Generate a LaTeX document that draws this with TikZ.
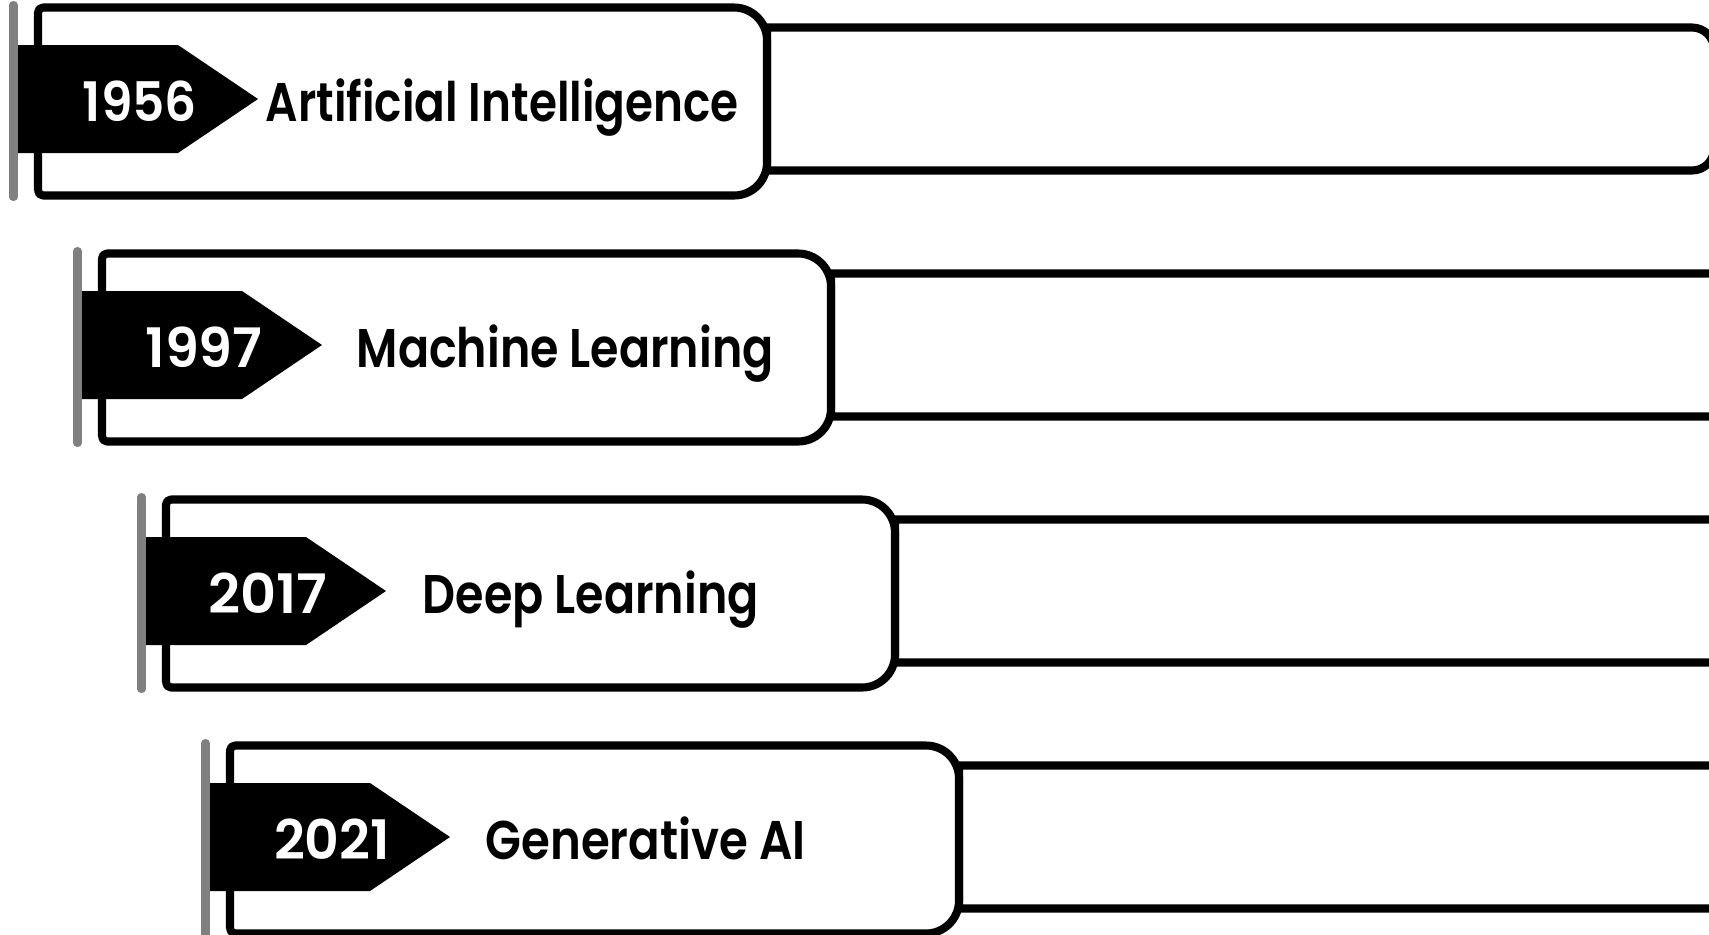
\documentclass[tikz,border=0pt]{standalone}
\usepackage{fontspec}
\setmainfont{Poppins}[BoldFont={Poppins SemiBold}]
\usepackage{graphicx}
\definecolor{bargray}{RGB}{128,128,128}
\tikzset{
  frame/.style={draw=black, line width=2.3pt, fill=white, line join=round},
  bar/.style={draw=bargray, line width=2.3pt, line cap=round},
  tag/.style={fill=black},
  yeartext/.style={anchor=base, inner sep=0pt, text=white, font=\fontsize{15.5}{18}\selectfont\bfseries},
  titletext/.style={anchor=base west, inner sep=0pt, text=black, font=\fontsize{15.5}{18}\selectfont\bfseries}
}
\begin{document}
\begin{tikzpicture}
\path[use as bounding box] (0,0) rectangle (17.09,9.34);
\clip (0,0) rectangle (17.09,9.34);
\foreach \i/\yr/\ttl/\tx/\tw/\yw in {0/1956/Artificial Intelligence/2.65/4.73/1.14,
  1/1997/Machine Learning/2.92/4.17/1.17,
  2/2017/Deep Learning/2.94/3.36/1.19,
  3/2021/Generative AI/2.93/3.20/1.16}{
  \begin{scope}[xshift=\i*0.64cm, yshift=-\i*2.46cm]
    % right panel
    \draw[frame] (7.67,9.065) -- (16.92,9.065) arc[start angle=90,end angle=0,radius=0.22]
      -- (17.14,7.855) arc[start angle=0,end angle=-90,radius=0.22] -- (7.67,7.635) -- cycle;
    % left panel
    \draw[frame] (0.38,7.435) -- (0.38,9.215) arc[start angle=180,end angle=90,radius=0.05]
      -- (7.34,9.265) arc[start angle=90,end angle=0,radius=0.33]
      -- (7.67,7.715) arc[start angle=0,end angle=-90,radius=0.33]
      -- (0.43,7.385) arc[start angle=270,end angle=180,radius=0.05] -- cycle;
    % year tag
    \fill[tag] (0.15,8.89) -- (1.78,8.89) -- (2.58,8.35) -- (1.78,7.81) -- (0.15,7.81) -- cycle;
    % grey side bar
    \draw[bar] (0.135,9.29) -- (0.135,7.37);
    \node[yeartext] (year\i) at (1.40,8.13) {\resizebox{\yw cm}{\height}{\yr}};
    \node[titletext] (title\i) at (\tx,8.13) {\resizebox{\tw cm}{\height}{\ttl}};
  \end{scope}
}
\end{tikzpicture}
\end{document}
